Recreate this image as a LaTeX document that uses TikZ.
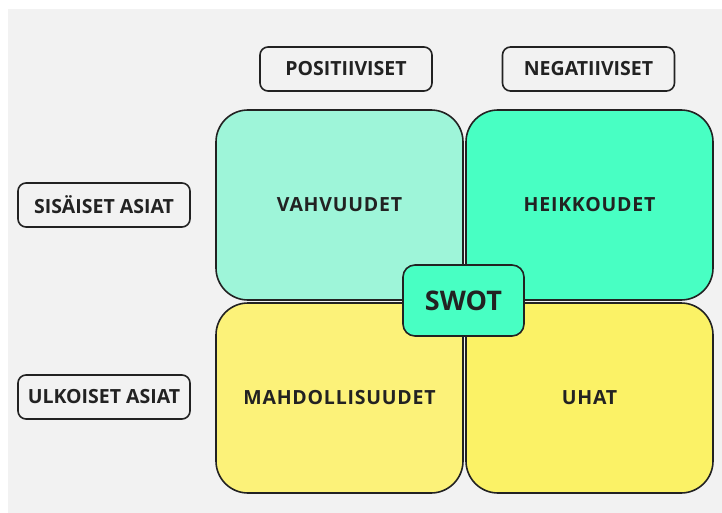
\documentclass[tikz,border=0pt]{standalone}
\usepackage{fontspec}
\setmainfont{Open Sans}
\newfontfamily\quadfont{Open Sans}[LetterSpace=4]
\usetikzlibrary{positioning}

\definecolor{bgray}{HTML}{F2F2F2}
\definecolor{ink}{HTML}{222222}
\definecolor{mintlight}{HTML}{9EF5D9}
\definecolor{mint}{HTML}{48FFC3}
\definecolor{yellowlight}{HTML}{FCF279}
\definecolor{yellow}{HTML}{FBF266}

\tikzset{
	label box/.style={draw=ink, line width=1.6pt, rounded corners=8pt, fill=none,
		minimum width=172pt, minimum height=44pt, inner sep=0pt, outer sep=0pt,
		text=ink, font=\fontsize{19.5}{22}\selectfont\bfseries},
	quad/.style={draw=ink, line width=1.6pt, rounded corners=32pt,
		minimum width=247pt, minimum height=190pt, inner sep=0pt, outer sep=0pt,
		text=ink, font=\quadfont\fontsize{19.5}{22}\selectfont\bfseries},
	swot/.style={draw=ink, line width=1.6pt, rounded corners=12pt, fill=mint,
		minimum width=121pt, minimum height=71pt, inner sep=0pt, outer sep=0pt,
		text=ink, font=\fontsize{27}{30}\selectfont\bfseries}
}

\begin{document}
\begin{tikzpicture}[x=1pt, y=-1pt]
					\fill[white] (0,0) rectangle (722,513);
					\fill[bgray] (8,9) rectangle (722,513);
					\useasboundingbox (0,0) rectangle (722,513);
					
					\node[quad, fill=mintlight]                               (vahv) at (339.5,205) {VAHVUUDET};
					\node[quad, fill=mint, right=3pt of vahv]                 (heik) {HEIKKOUDET};
					\node[quad, fill=yellowlight, below=3pt of vahv]          (mahd) {MAHDOLLISUUDET};
					\node[quad, fill=yellow, below=3pt of heik]               (uhat) {UHAT};
					
					\node[swot]                               (swot) at (463.5,300.5) {SWOT};
					
					\node[label box]                               (posit) at (346,69) {POSITIIVISET};
					\node[label box]                               (negat) at (588.5,69) {NEGATIIVISET};
					\node[label box]                               (sisa) at (104,205) {SISÄISET ASIAT};
					\node[label box]                               (ulko) at (104,397) {ULKOISET ASIAT};
					
				\end{tikzpicture}
\end{document}
